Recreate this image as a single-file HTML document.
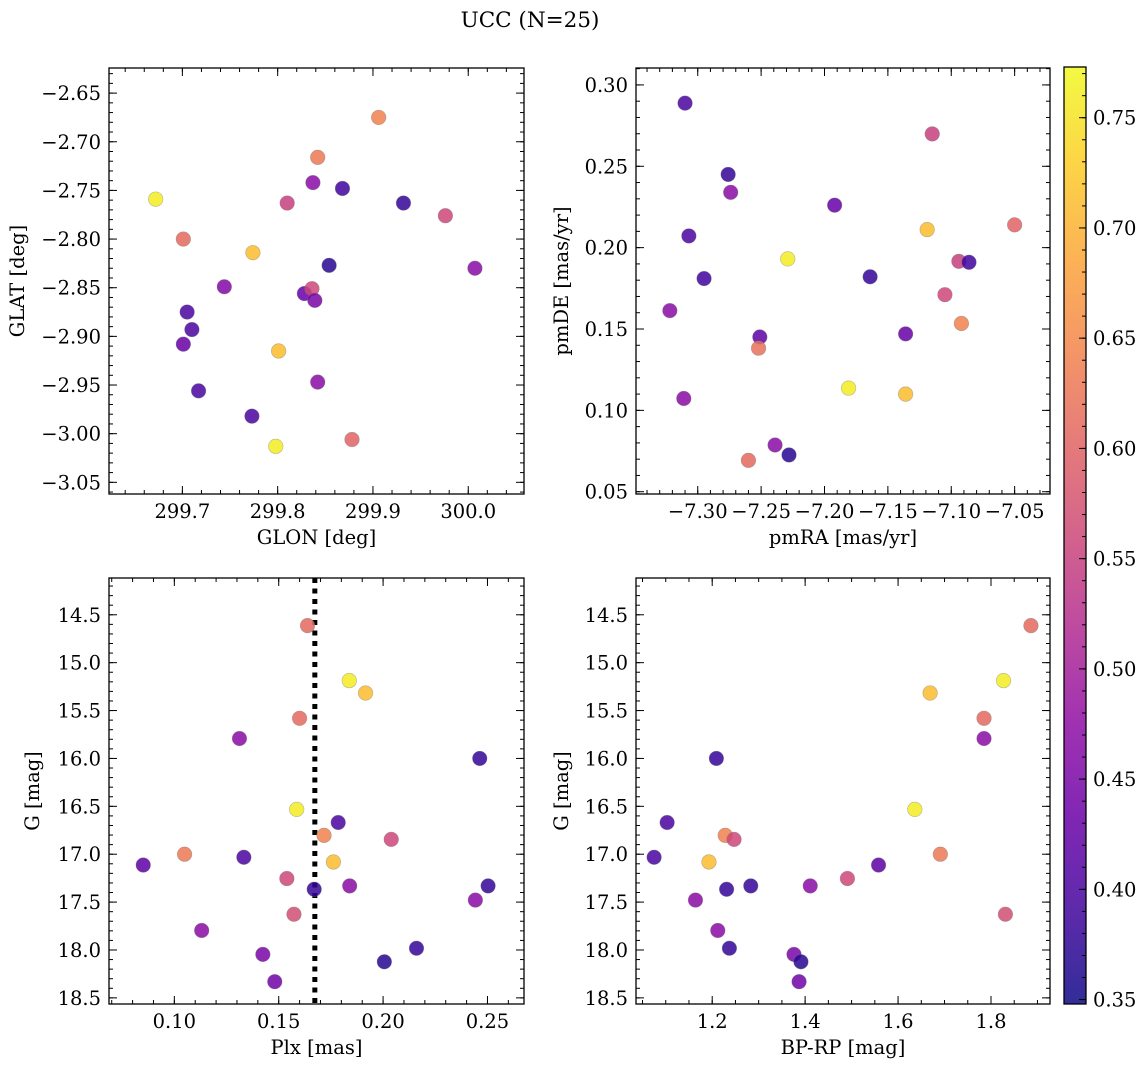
<!DOCTYPE html>
<html><head><meta charset="utf-8">
<style>
html,body{margin:0;padding:0;background:#fff;}
svg{display:block;font-family:"DejaVu Serif","Liberation Serif",serif;}
</style></head>
<body>
<svg id="fig" width="1148" height="1067" viewBox="0 0 1148 1067" xmlns="http://www.w3.org/2000/svg">
<text x="530" y="27" text-anchor="middle" font-size="21.5">UCC (N=25)</text>
</svg>
<script>
// ---- data: panel 1 (GLON vs GLAT) ----
const glon = [299.672,299.701,299.774,299.744,299.705,299.710,299.701,299.717,299.773,299.798,299.801,299.810,299.837,299.842,299.868,299.906,299.854,299.828,299.836,299.839,299.842,299.878,299.932,299.976,300.007];
const glat = [-2.759,-2.800,-2.814,-2.849,-2.875,-2.893,-2.908,-2.956,-2.982,-3.013,-2.915,-2.763,-2.742,-2.716,-2.748,-2.675,-2.827,-2.856,-2.851,-2.863,-2.947,-3.006,-2.763,-2.776,-2.830];
const c1   = [0.76,0.61,0.71,0.46,0.40,0.40,0.43,0.40,0.40,0.76,0.71,0.55,0.47,0.63,0.39,0.64,0.37,0.43,0.56,0.45,0.47,0.60,0.38,0.56,0.47];
// ---- data: panel 2 (pmRA vs pmDE) ----
const pmra = [-7.310,-7.276,-7.274,-7.307,-7.295,-7.322,-7.311,-7.251,-7.252,-7.229,-7.192,-7.260,-7.239,-7.228,-7.181,-7.164,-7.136,-7.136,-7.119,-7.115,-7.094,-7.086,-7.105,-7.092,-7.050];
const pmde = [0.2888,0.2450,0.2340,0.2072,0.1810,0.1613,0.1073,0.1451,0.1382,0.1931,0.2261,0.0693,0.0787,0.0726,0.1137,0.1821,0.1470,0.1100,0.2111,0.2699,0.1916,0.1910,0.1711,0.1534,0.2140];
const c2   = [0.40,0.38,0.47,0.40,0.39,0.47,0.47,0.42,0.62,0.76,0.43,0.61,0.47,0.37,0.76,0.38,0.43,0.71,0.71,0.55,0.55,0.39,0.56,0.64,0.60];
// ---- data: panel 3 (Plx vs G) ----
const plx  = [0.1638,0.1838,0.1916,0.1600,0.1312,0.2463,0.1586,0.1785,0.1717,0.2039,0.1049,0.1333,0.0851,0.1762,0.1539,0.1670,0.1840,0.2503,0.2442,0.1573,0.1131,0.2160,0.1424,0.2006,0.1481];
const gmag = [14.613,15.187,15.317,15.581,15.792,16.000,16.532,16.669,16.803,16.845,17.000,17.032,17.113,17.081,17.254,17.366,17.331,17.331,17.479,17.627,17.796,17.982,18.046,18.123,18.331];
const c3   = [0.61,0.76,0.71,0.61,0.47,0.38,0.76,0.40,0.64,0.56,0.63,0.40,0.42,0.71,0.56,0.38,0.47,0.38,0.47,0.57,0.47,0.38,0.45,0.37,0.44];
// ---- data: panel 4 (BP-RP vs G) ----
const bprp = [1.886,1.827,1.669,1.785,1.785,1.209,1.636,1.103,1.228,1.247,1.691,1.075,1.558,1.193,1.491,1.231,1.411,1.283,1.164,1.831,1.212,1.237,1.376,1.391,1.387];
const gmag4 = [14.613,15.187,15.317,15.581,15.792,16.000,16.532,16.669,16.803,16.845,17.000,17.032,17.113,17.081,17.254,17.366,17.331,17.331,17.479,17.627,17.796,17.982,18.046,18.123,18.331];
const c4   = c3;
const plxLine = [0.1673];
// ---- ticks ----
const t1x = [299.7,299.8,299.9,300.0], t1xl=["299.7","299.8","299.9","300.0"];
const t1y = [-2.65,-2.70,-2.75,-2.80,-2.85,-2.90,-2.95,-3.00,-3.05];
const t2x = [-7.30,-7.25,-7.20,-7.15,-7.10,-7.05];
const t2y = [0.05,0.10,0.15,0.20,0.25,0.30];
const t3x = [0.10,0.15,0.20,0.25];
const tG  = [14.5,15.0,15.5,16.0,16.5,17.0,17.5,18.0,18.5];
const t4x = [1.2,1.4,1.6,1.8];
const tcb = [0.35,0.40,0.45,0.50,0.55,0.60,0.65,0.70,0.75];
const CMIN=0.348, CMAX=0.773;

const FS=19.5;
const NS="http://www.w3.org/2000/svg";
const svg=document.getElementById('fig');
function el(tag,attrs,parent){const e=document.createElementNS(NS,tag);for(const k in attrs)e.setAttribute(k,attrs[k]);(parent||svg).appendChild(e);return e;}
const stops=[[13,8,135],[65,4,157],[106,0,168],[143,13,164],[177,42,144],[204,71,120],[225,100,98],[242,132,75],[252,166,54],[252,206,37],[240,249,33]];
function plasma(t){t=Math.max(0,Math.min(1,t));const p=t*10,i=Math.min(9,Math.floor(p)),f=p-i;const a=stops[i],b=stops[i+1];return 'rgb('+a.map((v,k)=>Math.round(v+(b[k]-v)*f)).join(',')+')';}
function fmt(v,d){const s=Math.abs(v).toFixed(d);return v<0?'\u2212'+s:s;}

function panel(o){
  const g=el('g',{});
  
  
  const sx=v=>o.L+(v-o.x0)/(o.x1-o.x0)*(o.R-o.L);
  const sy=v=>o.B-(v-o.y0)/(o.y1-o.y0)*(o.B-o.T);
  const mk=(lo,hi,step)=>{const a=[];for(let v=Math.ceil(lo/step-1e-6)*step;v<=hi+1e-9;v+=step)a.push(v);return a;};
  const ticks=el('g',{stroke:'#000','stroke-width':1},g);
  
  
  mk(Math.min(o.x0,o.x1),Math.max(o.x0,o.x1),o.xm).forEach(v=>{const x=sx(v);el('line',{x1:x,x2:x,y1:o.B,y2:o.B-4},ticks);el('line',{x1:x,x2:x,y1:o.T,y2:o.T+4},ticks);});
  mk(Math.min(o.y0,o.y1),Math.max(o.y0,o.y1),o.ym).forEach(v=>{const y=sy(v);el('line',{x1:o.L,x2:o.L+4,y1:y,y2:y},ticks);el('line',{x1:o.R,x2:o.R-4,y1:y,y2:y},ticks);});
  o.tx.forEach((v,i)=>{const x=sx(v);el('line',{x1:x,x2:x,y1:o.B,y2:o.B-8},ticks);el('line',{x1:x,x2:x,y1:o.T,y2:o.T+8},ticks);
    const t=el('text',{x:x,y:o.B+24,'text-anchor':'middle','font-size':FS,stroke:'none'},g);t.textContent=o.txl?o.txl[i]:fmt(v,o.xd);
    });
  o.ty.forEach(v=>{const y=sy(v);el('line',{x1:o.L,x2:o.L+8,y1:y,y2:y},ticks);el('line',{x1:o.R,x2:o.R-8,y1:y,y2:y},ticks);
    const t=el('text',{x:o.L-8,y:y+7,'text-anchor':'end','font-size':FS},g);t.textContent=fmt(v,o.yd);
    });
  if(o.vline){o.vline.forEach(v=>{const l=el('line',{x1:sx(v),x2:sx(v),y1:o.T,y2:o.B,stroke:'#000','stroke-width':5,'stroke-dasharray':'5,5.5'},g);
    });}
  const pts=el('g',{},g);
  
  
  o.xs.forEach((v,i)=>{const c=el('circle',{cx:sx(v),cy:sy(o.ys[i]),r:7.3,fill:plasma((o.cs[i]-CMIN)/(CMAX-CMIN)),'fill-opacity':0.85,stroke:'#777','stroke-opacity':0.5,'stroke-width':0.6},pts);
    });
  const f=el('rect',{x:o.L,y:o.T,width:o.R-o.L,height:o.B-o.T,fill:'none',stroke:'#000','stroke-width':1.3},g);
  
  const xl=el('text',{x:(o.L+o.R)/2,y:o.B+50,'text-anchor':'middle','font-size':FS},g);xl.textContent=o.xlab;
  
  const yl=el('text',{x:o.ylx,y:(o.T+o.B)/2,'text-anchor':'middle','font-size':FS,transform:'rotate(-90 '+o.ylx+' '+(o.T+o.B)/2+')'},g);yl.textContent=o.ylab;
  
}
panel({name:'glon-glat-panel',L:109,R:524,T:68,B:494,x0:299.623,x1:300.0585,y0:-3.062,y1:-2.6242,xm:0.02,ym:0.01,tx:t1x,txl:t1xl,ty:t1y,yd:2,xs:glon,ys:glat,cs:c1,xlab:'GLON [deg]',ylab:'GLAT [deg]',ylx:24});
panel({name:'pm-panel',L:636,R:1050,T:68,B:494,x0:-7.3487,x1:-7.0221,y0:0.0486,y1:0.3104,xm:0.01,ym:0.01,tx:t2x,xd:2,ty:t2y,yd:2,xs:pmra,ys:pmde,cs:c2,xlab:'pmRA [mas/yr]',ylab:'pmDE [mas/yr]',ylx:568});
panel({name:'plx-g-panel',L:109,R:524,T:578,B:1004,x0:0.0687,x1:0.2675,y0:18.564,y1:14.116,xm:0.01,ym:0.1,tx:t3x,xd:2,ty:tG,yd:1,xs:plx,ys:gmag,cs:c3,xlab:'Plx [mas]',ylab:'G [mag]',ylx:39,vline:plxLine});
panel({name:'cmd-panel',L:636,R:1050,T:578,B:1004,x0:1.036,x1:1.927,y0:18.564,y1:14.116,xm:0.05,ym:0.1,tx:t4x,xd:1,ty:tG,yd:1,xs:bprp,ys:gmag4,cs:c4,xlab:'BP-RP [mag]',ylab:'G [mag]',ylx:568});

// colorbar
const cb=el('g',{});


const defs=el('defs',{},cb);
const lg=el('linearGradient',{id:'cbg',x1:0,y1:1,x2:0,y2:0},defs);
for(let i=0;i<=20;i++)el('stop',{offset:(i/20),'stop-color':plasma(i/20),'stop-opacity':0.85},lg);
const CT=67,CB=1004,CL=1064,CR=1086;
el('rect',{x:CL,y:CT,width:CR-CL,height:CB-CT,fill:'url(#cbg)'},cb);
const cy=v=>CB-(v-CMIN)/(CMAX-CMIN)*(CB-CT);
for(let v=0.35;v<=0.7731;v+=0.01){const y=cy(v);el('line',{x1:CR,x2:CR-4,y1:y,y2:y,stroke:'#000'},cb);}
tcb.forEach(v=>{const y=cy(v);el('line',{x1:CR,x2:CR-7,y1:y,y2:y,stroke:'#000'},cb);
  const t=el('text',{x:CR+7,y:y+7,'font-size':FS},cb);t.textContent=v.toFixed(2);
  });
el('rect',{x:CL,y:CT,width:CR-CL,height:CB-CT,fill:'none',stroke:'#000','stroke-width':1.3},cb);
</script>
</body></html>
